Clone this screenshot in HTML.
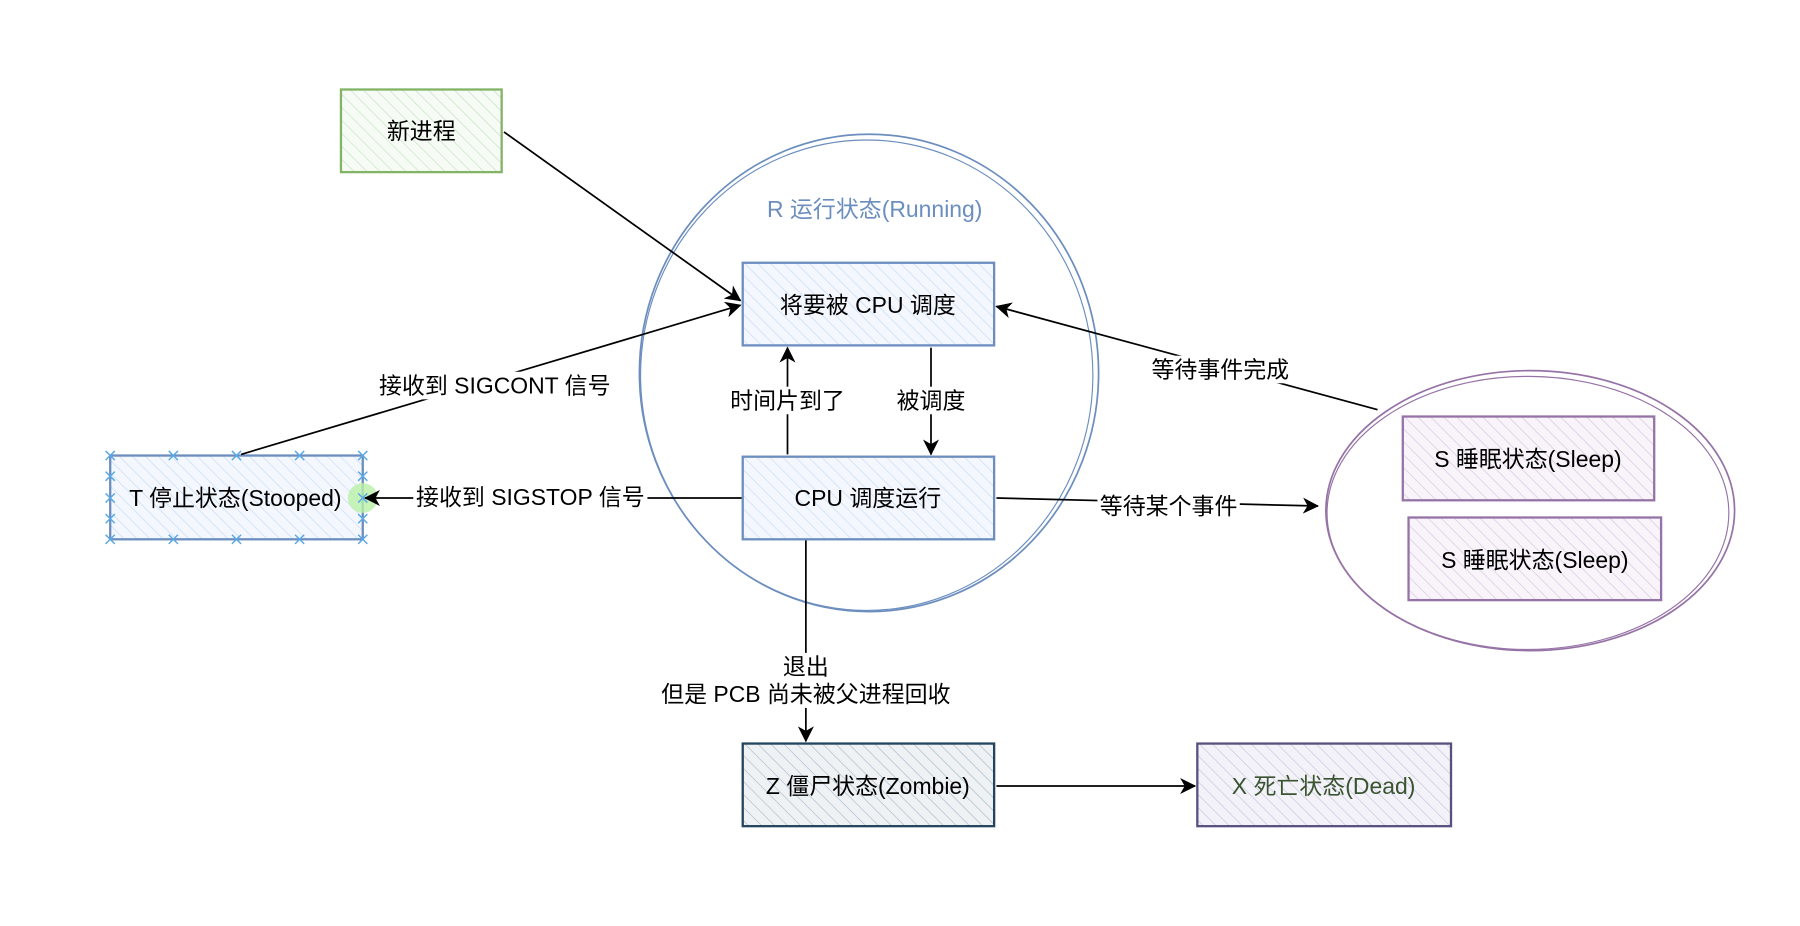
<!DOCTYPE html>
<html><head><meta charset="utf-8"><style>
html,body{margin:0;padding:0;background:#fff;}
svg{display:block}
text{font-family:"Liberation Sans","Noto Sans CJK SC",sans-serif;font-size:20px;text-anchor:middle;dominant-baseline:central;}
</style></head><body>
<svg width="1800" height="926" viewBox="0 0 1568 807" preserveAspectRatio="none" xmlns="http://www.w3.org/2000/svg">
<defs>
<pattern id="hb" width="8" height="8" patternUnits="userSpaceOnUse" patternTransform="rotate(-45)"><rect width="8" height="8" fill="#f4f8fe"/><line x1="0" y1="0" x2="0" y2="8" stroke="#c9dbf5" stroke-width="1.2"/></pattern>
<pattern id="hg" width="8" height="8" patternUnits="userSpaceOnUse" patternTransform="rotate(-45)"><rect width="8" height="8" fill="#f6fbf5"/><line x1="0" y1="0" x2="0" y2="8" stroke="#c8e2c4" stroke-width="1.2"/></pattern>
<pattern id="hp" width="8" height="8" patternUnits="userSpaceOnUse" patternTransform="rotate(-45)"><rect width="8" height="8" fill="#f8f4fa"/><line x1="0" y1="0" x2="0" y2="8" stroke="#d8c8e0" stroke-width="1.2"/></pattern>
<pattern id="hz" width="8" height="8" patternUnits="userSpaceOnUse" patternTransform="rotate(-45)"><rect width="8" height="8" fill="#eef2f5"/><line x1="0" y1="0" x2="0" y2="8" stroke="#aebdca" stroke-width="1.2"/></pattern>
<pattern id="hx" width="8" height="8" patternUnits="userSpaceOnUse" patternTransform="rotate(-45)"><rect width="8" height="8" fill="#f3f2f8"/><line x1="0" y1="0" x2="0" y2="8" stroke="#c9c6de" stroke-width="1.2"/></pattern>
<marker id="a" markerWidth="14" markerHeight="14" refX="13" refY="7" orient="auto" markerUnits="userSpaceOnUse"><path d="M0,0 L14,7 L0,14 L4,7 Z" fill="#000"/></marker>
</defs>
<ellipse cx="757" cy="325" rx="200" ry="208" fill="none" stroke="#6c8ebf" stroke-width="1.5"/>
<ellipse cx="755" cy="327" rx="197" ry="205" fill="none" stroke="#6c8ebf" stroke-width="1"/>
<ellipse cx="1333" cy="445" rx="178" ry="122" fill="none" stroke="#9673a6" stroke-width="1.5"/>
<ellipse cx="1331" cy="447" rx="175" ry="119" fill="none" stroke="#9673a6" stroke-width="1"/>
<text x="762" y="182" fill="#6c8ebf">R 运行状态(Running)</text>
<rect x="297" y="78" width="140" height="72" fill="url(#hg)" stroke="#82b366" stroke-width="2"/>
<text x="367" y="114">新进程</text>
<rect x="647" y="229" width="219" height="72" fill="url(#hb)" stroke="#6c8ebf" stroke-width="2"/>
<text x="756" y="266">将要被 CPU 调度</text>
<rect x="647" y="398" width="219" height="72" fill="url(#hb)" stroke="#6c8ebf" stroke-width="2"/>
<text x="756" y="434">CPU 调度运行</text>
<rect x="96" y="397" width="220" height="73" fill="url(#hb)" stroke="#6c8ebf" stroke-width="2"/>
<text x="205" y="434">T 停止状态(Stooped)</text>
<circle cx="316" cy="434" r="13" fill="#b9f0a8" opacity="0.8"/>
<g stroke="#5aa9e6" stroke-width="1.3">
<path d="M92,393l8,8M100,393l-8,8M147,393l8,8M155,393l-8,8M202,393l8,8M210,393l-8,8M257,393l8,8M265,393l-8,8M312,393l8,8M320,393l-8,8
M92,466l8,8M100,466l-8,8M147,466l8,8M155,466l-8,8M202,466l8,8M210,466l-8,8M257,466l8,8M265,466l-8,8M312,466l8,8M320,466l-8,8
M92,411l8,8M100,411l-8,8M92,430l8,8M100,430l-8,8M92,448l8,8M100,448l-8,8
M312,411l8,8M320,411l-8,8M312,430l8,8M320,430l-8,8M312,448l8,8M320,448l-8,8"/>
</g>
<rect x="1222" y="363" width="219" height="73" fill="url(#hp)" stroke="#9673a6" stroke-width="2"/>
<text x="1331" y="400">S 睡眠状态(Sleep)</text>
<rect x="1227" y="451" width="220" height="72" fill="url(#hp)" stroke="#9673a6" stroke-width="2"/>
<text x="1337" y="488">S 睡眠状态(Sleep)</text>
<rect x="647" y="648" width="219" height="72" fill="url(#hz)" stroke="#23445d" stroke-width="2"/>
<text x="756" y="685">Z 僵尸状态(Zombie)</text>
<rect x="1043" y="648" width="221" height="72" fill="url(#hx)" stroke="#56517e" stroke-width="2"/>
<text x="1153" y="685" fill="#3a5431">X 死亡状态(Dead)</text>
<g stroke="#000" stroke-width="1.5" fill="none">
<line x1="439" y1="115" x2="645" y2="262" marker-end="url(#a)"/>
<line x1="210" y1="396" x2="645" y2="266" marker-end="url(#a)"/>
<line x1="686" y1="396" x2="686" y2="303" marker-end="url(#a)"/>
<line x1="811" y1="303" x2="811" y2="396" marker-end="url(#a)"/>
<line x1="646" y1="434" x2="318" y2="434" marker-end="url(#a)"/>
<line x1="868" y1="434" x2="1148" y2="441" marker-end="url(#a)"/>
<line x1="1200" y1="357" x2="868" y2="267" marker-end="url(#a)"/>
<line x1="702" y1="471" x2="702" y2="646" marker-end="url(#a)"/>
<line x1="868" y1="685" x2="1041" y2="685" marker-end="url(#a)"/>
</g>
<g>
<rect x="328" y="324" width="206" height="24" fill="#fff"/><text x="431" y="336">接收到 SIGCONT 信号</text>
<rect x="634" y="337" width="104" height="24" fill="#fff"/><text x="686" y="349">时间片到了</text>
<rect x="780" y="337" width="62" height="24" fill="#fff"/><text x="811" y="349">被调度</text>
<rect x="360" y="421" width="204" height="24" fill="#fff"/><text x="462" y="433">接收到 SIGSTOP 信号</text>
<rect x="956" y="429" width="124" height="24" fill="#fff"/><text x="1018" y="441">等待某个事件</text>
<rect x="1002" y="310" width="124" height="24" fill="#fff"/><text x="1063" y="322">等待事件完成</text>
<rect x="576" y="569" width="256" height="48" fill="#fff"/><text x="702" y="581">退出</text><text x="702" y="605">但是 PCB 尚未被父进程回收</text>
</g>
</svg>
</body></html>
